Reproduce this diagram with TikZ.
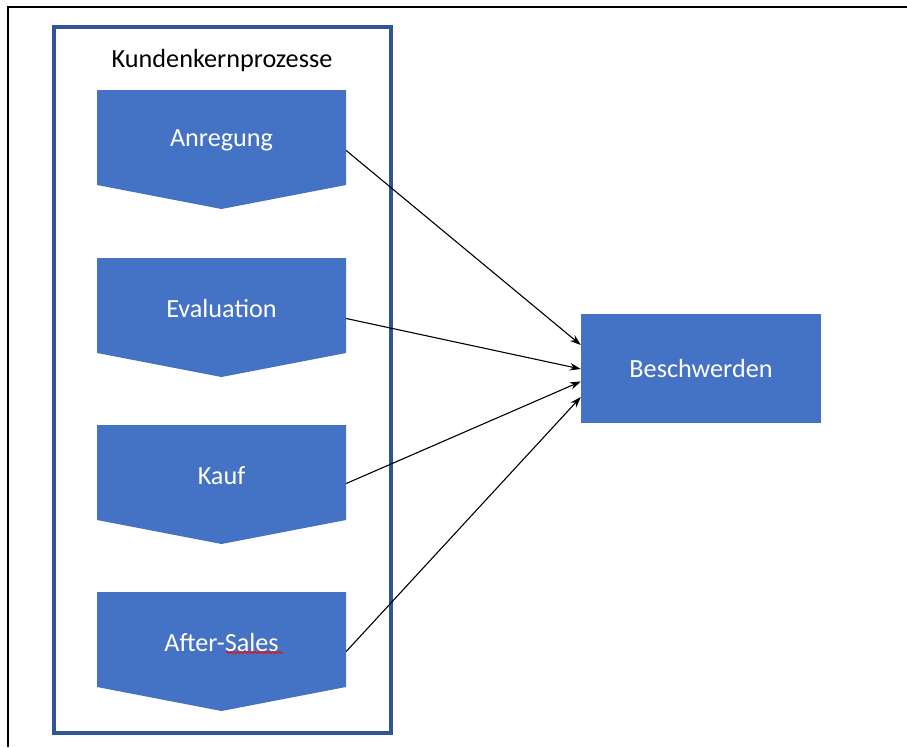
\documentclass[tikz,border=0pt]{standalone}
\usepackage{fontspec}
\setmainfont{Carlito}
\usetikzlibrary{arrows.meta,calc,decorations.pathmorphing}
\definecolor{shapeblue}{HTML}{4472C4}
\definecolor{frameblue}{HTML}{2F5597}

\begin{document}
\begin{tikzpicture}[x=1pt,y=-1pt,
  lbl/.style={font=\fontsize{26.2}{31}\selectfont},
  stage/.style={lbl, text=white, minimum width=249pt, minimum height=95pt, inner sep=0pt},
  conn/.style={-{Stealth[length=11pt,width=7.5pt]}, line width=1.1pt, black},
  spell/.style={red, line width=0.8pt, decorate,
    decoration={snake, amplitude=1pt, segment length=3.5pt}}]
\useasboundingbox (0,0) rectangle (907,747);
\fill[white] (0,0) rectangle (907,747);
% outer page frame
\draw[line width=2pt] (8,747) -- (8,7) -- (907,7);
% process container
\draw[frameblue, line width=3.5pt] (54,27) rectangle (391,733);
\node[lbl] (title) at (222,61) {Kundenkernprozesse};
% chevron-shaped process stages
\foreach \n/\t/\y in {anr/Anregung/90, eva/Evaluation/258, kauf/Kauf/425, after/After-Sales/592} {
  \fill[shapeblue] (97,\y) -- (346,\y) -- (346,\y+95) -- (221.5,\y+119) -- (97,\y+95) -- cycle;
  \node[stage] (\n) at (221.5,\y+47.5) {\raisebox{-3pt}[\height][\depth]{\t}};
}
% spelling mark under "Sales"
\draw[spell] ($(after.center)+(4.5,13)$) -- ++(57,0);
% complaints box
\node[stage, fill=shapeblue, minimum width=240pt, minimum height=109pt] (besch) at (701,368.5) {Beschwerden};
% connectors
\draw[conn] ($(anr.east)+(0,13)$) -- ($(besch.west)+(0,-23.5)$);
\draw[conn] ($(eva.east)+(0,13)$) -- ($(besch.west)+(0,0.5)$);
\draw[conn] ($(kauf.east)+(0,11)$) -- ($(besch.west)+(0,13)$);
\draw[conn] ($(after.east)+(0,12)$) -- ($(besch.west)+(0,28.5)$);
\end{tikzpicture}
\end{document}
